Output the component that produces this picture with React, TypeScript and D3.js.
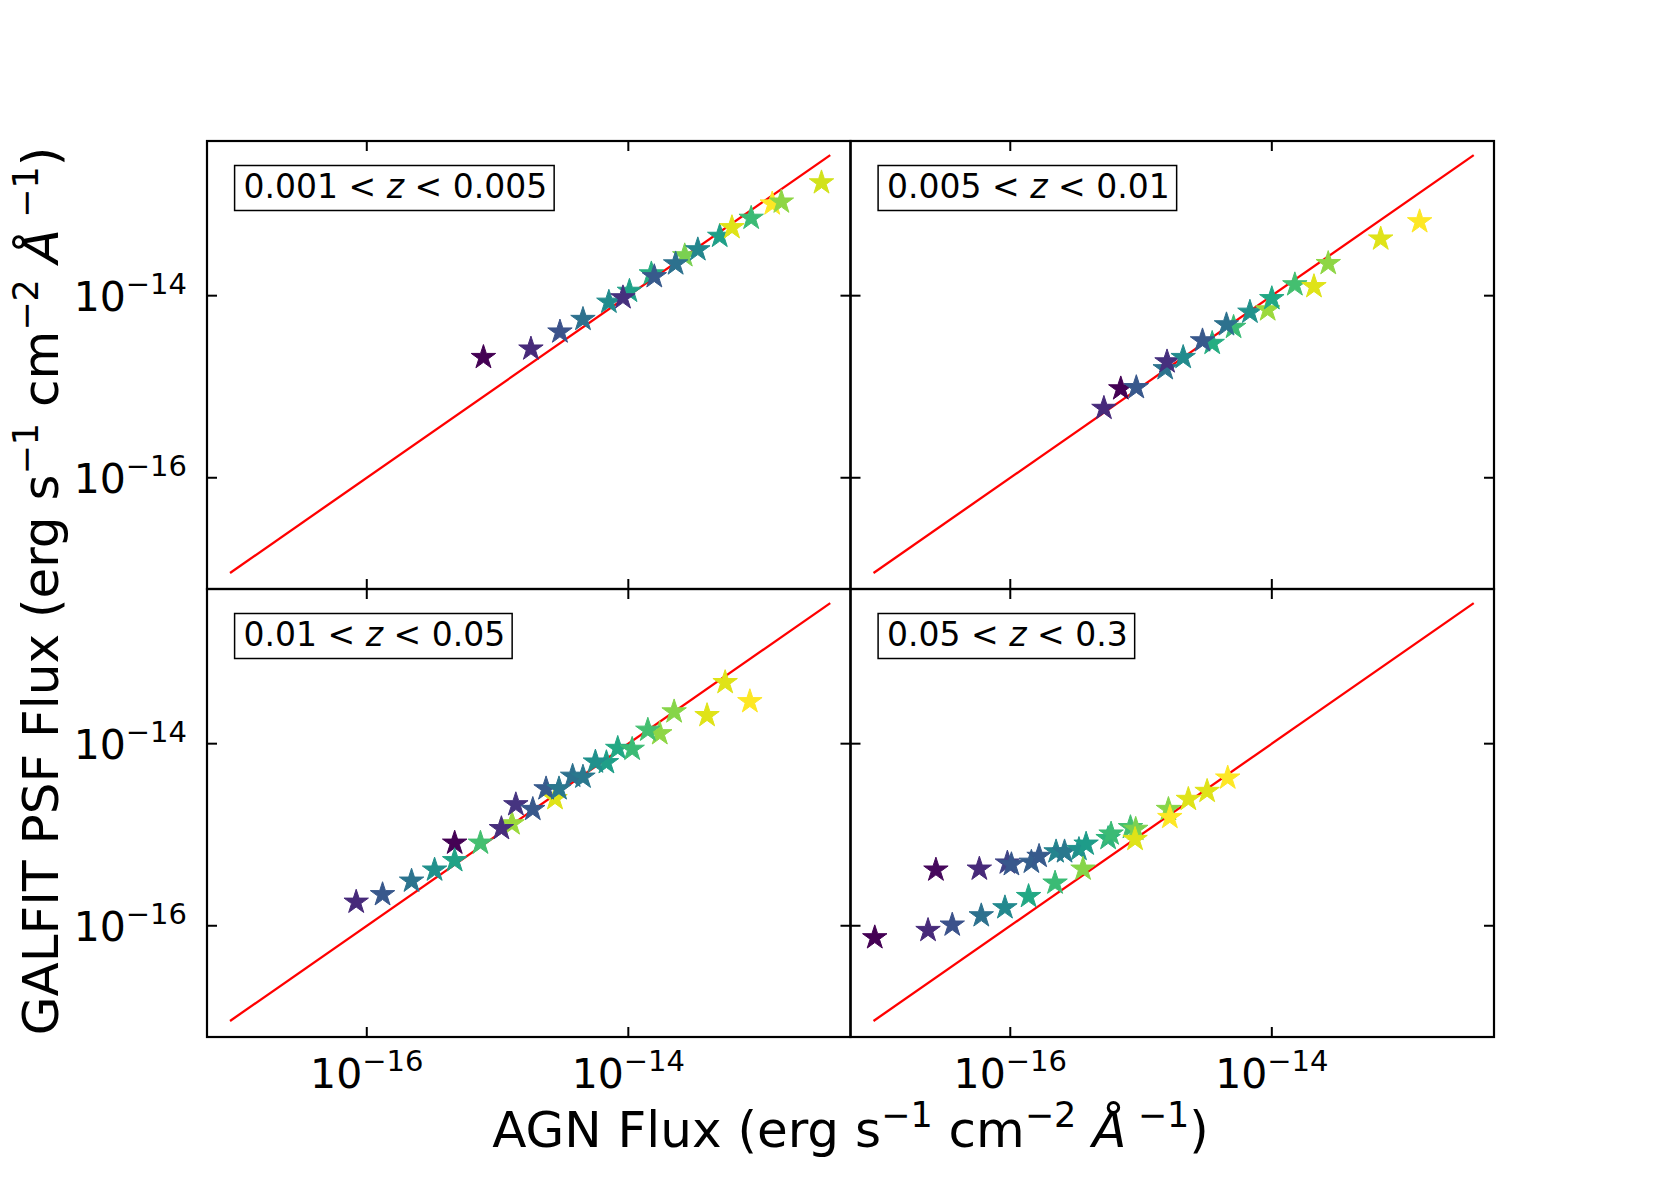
import React, { useRef, useEffect } from 'react';
import * as d3 from 'd3';

// redshift bins, one per panel (lower, upper)
const binLow = ['0.001', '0.005', '0.01', '0.05'];
const binHigh = ['0.005', '0.01', '0.05', '0.3'];

// panel 1 : 0.001 < z < 0.005
const agnFlux1 = [7.8e-16, 1.8e-15, 3.0e-15, 4.5e-15, 7.1e-15, 1.02e-14, 9.1e-15, 1.5e-14, 1.58e-14,
  2.7e-14, 2.3e-14, 3.4e-14, 5.0e-14, 6.2e-14, 8.7e-14, 1.26e-13, 1.48e-13, 3.0e-13];
const psfFlux1 = [2.1e-15, 2.6e-15, 4.0e-15, 5.5e-15, 8.5e-15, 1.12e-14, 9.5e-15, 1.74e-14, 1.62e-14,
  2.75e-14, 2.24e-14, 3.2e-14, 4.5e-14, 5.6e-14, 7.1e-14, 1.02e-13, 1.07e-13, 1.74e-13];
const colour1 = [0.0, 0.12, 0.25, 0.37, 0.48, 0.57, 0.14, 0.62, 0.28,
  0.8, 0.37, 0.46, 0.56, 0.95, 0.68, 1.0, 0.83, 0.93];

// panel 2 : 0.005 < z < 0.01
const agnFlux2 = [5.2e-16, 7.0e-16, 9.2e-16, 1.53e-15, 1.58e-15, 2.1e-15, 3.5e-15, 2.95e-15, 5.1e-15,
  4.5e-15, 6.8e-15, 9.3e-15, 1.0e-14, 1.5e-14, 2.1e-14, 2.7e-14, 6.8e-14, 1.35e-13];
const psfFlux2 = [5.8e-16, 9.5e-16, 9.8e-16, 1.58e-15, 1.88e-15, 2.1e-15, 3.0e-15, 3.2e-15, 4.5e-15,
  4.8e-15, 6.6e-15, 7.0e-15, 9.3e-15, 1.32e-14, 1.26e-14, 2.26e-14, 4.2e-14, 6.5e-14];
const colour2 = [0.12, 0.0, 0.27, 0.38, 0.14, 0.48, 0.62, 0.27, 0.68,
  0.37, 0.5, 0.85, 0.6, 0.7, 0.95, 0.83, 0.95, 1.0];

// panel 3 : 0.01 < z < 0.05
const agnFlux3 = [8.3e-17, 1.32e-16, 2.2e-16, 3.3e-16, 4.7e-16, 4.7e-16, 7.4e-16, 1.29e-15, 1.07e-15,
  1.38e-15, 1.86e-15, 2.75e-15, 2.35e-15, 2.95e-15, 3.75e-15, 4.5e-15, 6.8e-15, 5.6e-15, 8.3e-15,
  1.07e-14, 1.74e-14, 1.41e-14, 2.24e-14, 4.0e-14, 5.5e-14, 8.5e-14];
const psfFlux3 = [1.82e-16, 2.2e-16, 3.1e-16, 4.1e-16, 8.1e-16, 5.2e-16, 8.1e-16, 1.32e-15, 1.17e-15,
  2.14e-15, 1.9e-15, 2.5e-15, 3.2e-15, 3.2e-15, 4.4e-15, 4.3e-15, 6.2e-15, 6.3e-15, 8.9e-15,
  8.7e-15, 1.29e-14, 1.41e-14, 2.24e-14, 2.04e-14, 4.7e-14, 2.9e-14];
const colour3 = [0.12, 0.27, 0.38, 0.5, 0.0, 0.58, 0.7, 0.85, 0.13,
  0.15, 0.27, 0.95, 0.28, 0.4, 0.37, 0.4, 0.56, 0.5, 0.6,
  0.68, 0.83, 0.7, 0.82, 0.95, 0.95, 1.0];

// panel 4 : 0.05 < z < 0.3
const agnFlux4 = [9.2e-18, 2.7e-17, 2.35e-17, 3.6e-17, 5.8e-17, 9.5e-17, 1.02e-16, 6.0e-17, 1.45e-16,
  1.66e-16, 9.1e-17, 1.38e-16, 2.24e-16, 2.6e-16, 2.2e-16, 3.35e-16, 3.8e-16, 3.6e-16, 5.6e-16,
  5.9e-16, 8.3e-16, 9.1e-16, 9.0e-16, 1.62e-15, 1.66e-15, 2.3e-15, 3.2e-15, 4.6e-15];
const psfFlux4 = [7.4e-17, 4.1e-16, 8.9e-17, 1.02e-16, 4.2e-16, 4.9e-16, 4.7e-16, 1.29e-16, 5.0e-16,
  5.8e-16, 1.58e-16, 2.1e-16, 6.5e-16, 6.5e-16, 2.95e-16, 6.9e-16, 7.9e-16, 4.2e-16, 9.1e-16,
  1.02e-15, 1.2e-15, 1.15e-15, 8.9e-16, 1.9e-15, 1.55e-15, 2.45e-15, 3.0e-15, 4.2e-15];
const colour4 = [0.0, 0.02, 0.12, 0.25, 0.12, 0.2, 0.27, 0.37, 0.3,
  0.28, 0.47, 0.6, 0.45, 0.4, 0.68, 0.5, 0.55, 0.82, 0.65,
  0.68, 0.7, 0.8, 0.95, 0.82, 1.0, 0.95, 0.95, 1.0];

const fluxDomain = [6e-18, 5e-13];
const oneToOne = [9e-18, 3.5e-13];
const tickValues = [1e-16, 1e-14];

const panels = [
  { agn: agnFlux1, psf: psfFlux1, c: colour1, col: 0, row: 0 },
  { agn: agnFlux2, psf: psfFlux2, c: colour2, col: 1, row: 0 },
  { agn: agnFlux3, psf: psfFlux3, c: colour3, col: 0, row: 1 },
  { agn: agnFlux4, psf: psfFlux4, c: colour4, col: 1, row: 1 },
];

const W = 1661;
const H = 1186;
const LEFT = 207, RIGHT = 1494, TOP = 141, BOTTOM = 1037;
const FONT = 'DejaVu Sans, Bitstream Vera Sans, sans-serif';

function App() {
  const svgRef = useRef<SVGSVGElement>(null);

  useEffect(() => {
    const svg = d3.select(svgRef.current);
    svg.selectAll('*').remove();

    const pw = (RIGHT - LEFT) / 2;
    const ph = (BOTTOM - TOP) / 2;
    const TL = 10;
    const star = d3.symbol().type(d3.symbolStar).size(185);

    svg.append('rect').attr('width', W).attr('height', H).attr('fill', 'white');

    panels.forEach((p, i) => {
      const x0 = LEFT + p.col * pw;
      const y0 = TOP + p.row * ph;
      const x = d3.scaleLog().domain(fluxDomain).range([x0, x0 + pw]);
      const y = d3.scaleLog().domain(fluxDomain).range([y0 + ph, y0]);

      const g = svg.append('g');
      g.append('clipPath').attr('id', `clip${i}`)
        .append('rect').attr('x', x0).attr('y', y0).attr('width', pw).attr('height', ph);
      const inner = g.append('g').attr('clip-path', `url(#clip${i})`);

      // one-to-one line
      inner.append('path')
        .datum(oneToOne)
        .attr('d', d3.line<number>().x(d => x(d)).y(d => y(d)))
        .attr('fill', 'none')
        .attr('stroke', '#ff0000')
        .attr('stroke-width', 2.3);

      // stars
      inner.selectAll('path.star')
        .data(p.agn.map((a, k) => ({ a, b: p.psf[k], c: p.c[k] })))
        .join('path')
        .attr('class', 'star')
        .attr('d', star)
        .attr('transform', d => `translate(${x(d.a)},${y(d.b)})`)
        .attr('fill', d => d3.interpolateViridis(d.c))
        .attr('stroke', d => d3.interpolateViridis(d.c))
        .attr('stroke-width', 1)
        .attr('stroke-linejoin', 'round');

      // ticks, inward on all four sides
      tickValues.forEach(t => {
        const tx = x(t);
        const ty = y(t);
        const tk = [
          [tx, y0 + ph, tx, y0 + ph - TL],
          [tx, y0, tx, y0 + TL],
          [x0, ty, x0 + TL, ty],
          [x0 + pw, ty, x0 + pw - TL, ty],
        ];
        tk.forEach(l => {
          g.append('line')
            .attr('x1', l[0]).attr('y1', l[1]).attr('x2', l[2]).attr('y2', l[3])
            .attr('stroke', 'black').attr('stroke-width', 2);
        });
      });

      g.append('rect')
        .attr('x', x0).attr('y', y0).attr('width', pw).attr('height', ph)
        .attr('fill', 'none').attr('stroke', 'black').attr('stroke-width', 2.2);

      // tick labels
      if (p.row === 1) {
        tickValues.forEach(t => {
          const txt = g.append('text')
            .attr('x', x(t)).attr('y', BOTTOM + 51)
            .attr('text-anchor', 'middle')
            .attr('font-family', FONT).attr('font-size', 41);
          txt.append('tspan').text('10');
          txt.append('tspan').attr('dy', -17).attr('font-size', 29)
            .text(`\u2212${Math.abs(Math.round(Math.log10(t)))}`);
        });
      }
      if (p.col === 0) {
        tickValues.forEach(t => {
          const txt = g.append('text')
            .attr('x', LEFT - 20).attr('y', y(t) + 15)
            .attr('text-anchor', 'end')
            .attr('font-family', FONT).attr('font-size', 41);
          txt.append('tspan').text('10');
          txt.append('tspan').attr('dy', -17).attr('font-size', 29)
            .text(`\u2212${Math.abs(Math.round(Math.log10(t)))}`);
        });
      }

      // redshift label box
      const bx = x0 + 27.6;
      const by = y0 + 24.5;
      const box = g.append('rect')
        .attr('x', bx).attr('y', by).attr('height', 45)
        .attr('fill', 'white').attr('stroke', 'black').attr('stroke-width', 1.5);
      const lab = g.append('text')
        .attr('x', bx + 9).attr('y', by + 32)
        .attr('font-family', FONT).attr('font-size', 33)
        .style('white-space', 'pre');
      lab.append('tspan').text(`${binLow[i]} < `);
      lab.append('tspan').attr('font-style', 'italic').text('z');
      lab.append('tspan').text(` < ${binHigh[i]}`);
      const len = (lab.node() as SVGTextElement).getComputedTextLength();
      box.attr('width', len + 16);
    });

    // axis labels with superscripts
    const unitLabel = (sel, prefix) => {
      sel.append('tspan').text(`${prefix} (erg s`);
      sel.append('tspan').attr('dy', -20).attr('font-size', 35).text('\u22121');
      sel.append('tspan').attr('dy', 20).text(' cm');
      sel.append('tspan').attr('dy', -20).attr('font-size', 35).text('\u22122');
      sel.append('tspan').attr('dy', 20).text(' ');
      sel.append('tspan').attr('font-style', 'italic').text('\u00c5');
      sel.append('tspan').attr('dy', -20).attr('font-size', 35).text('\u00a0\u22121');
      sel.append('tspan').attr('dy', 20).text(')');
    };

    const xl = svg.append('text')
      .attr('x', (LEFT + RIGHT) / 2).attr('y', 1147)
      .attr('text-anchor', 'middle')
      .attr('font-family', FONT).attr('font-size', 50)
      .style('white-space', 'pre');
    unitLabel(xl, 'AGN Flux');

    const yl = svg.append('text')
      .attr('transform', `translate(58,${(TOP + BOTTOM) / 2 + 2}) rotate(-90)`)
      .attr('text-anchor', 'middle')
      .attr('font-family', FONT).attr('font-size', 50)
      .style('white-space', 'pre');
    unitLabel(yl, 'GALFIT PSF Flux');
  }, []);

  return (
    <svg
      ref={svgRef}
      width={W}
      height={H}
      style={{ position: 'absolute', left: 0, top: 0, display: 'block' }}
    />
  );
}

export default App;
